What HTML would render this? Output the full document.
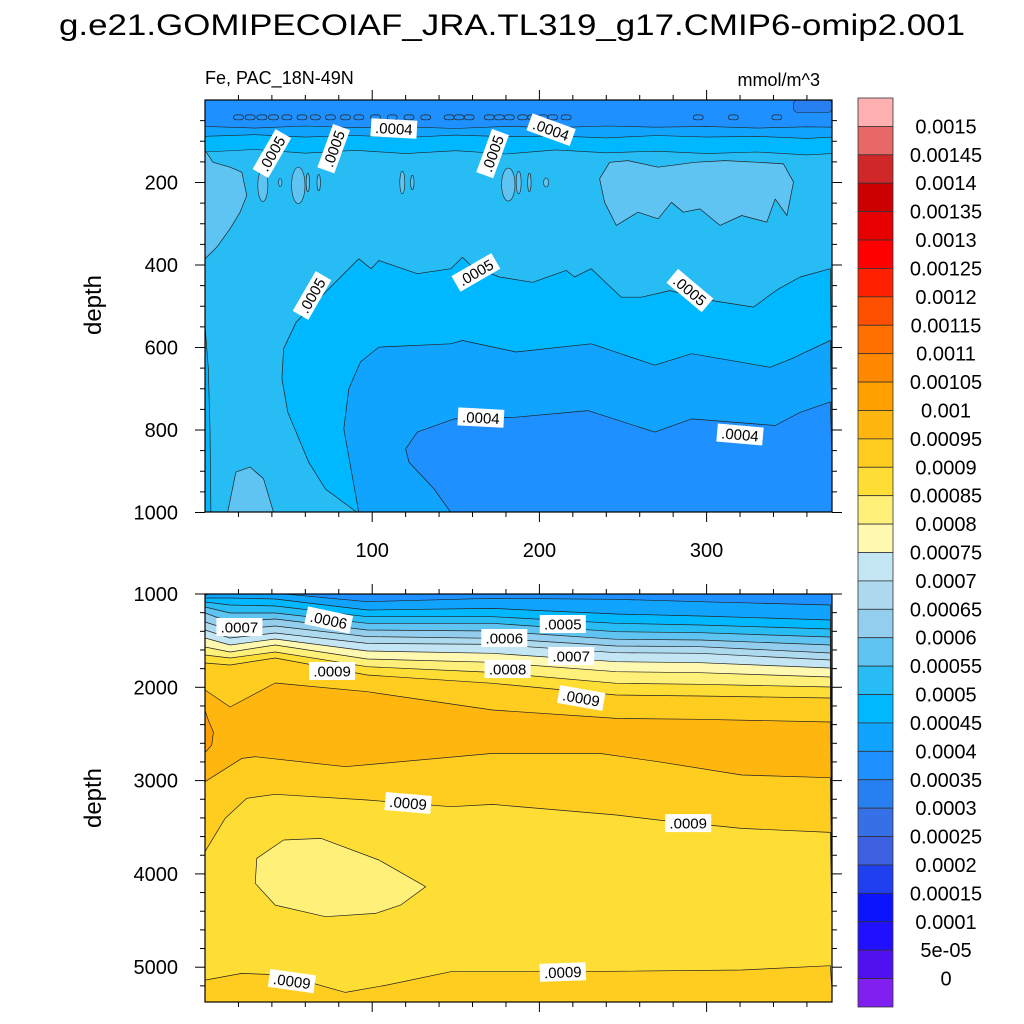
<!DOCTYPE html>
<html><head><meta charset="utf-8">
<style>
html,body{margin:0;padding:0;background:#fff;}
svg{display:block;font-family:"Liberation Sans",Arial,sans-serif;}
</style></head>
<body>
<svg id="chart" width="1024" height="1024" viewBox="0 0 1024 1024" xmlns="http://www.w3.org/2000/svg">
<text x="512" y="35" font-size="30" text-anchor="middle" textLength="906" lengthAdjust="spacingAndGlyphs">g.e21.GOMIPECOIAF_JRA.TL319_g17.CMIP6-omip2.001</text>
<text x="205" y="84" font-size="18">Fe, PAC_18N-49N</text>
<text x="820" y="86" font-size="18" text-anchor="end">mmol/m^3</text>
<defs>
<clipPath id="clipT"><rect x="205" y="100" width="627" height="412"/></clipPath>
<clipPath id="clipB"><rect x="205" y="594" width="627" height="408"/></clipPath>
</defs>
<g id="topFill" clip-path="url(#clipT)"></g>
<g id="botFill" clip-path="url(#clipB)"></g>
<g id="axes"></g>
<g id="cbar"></g>
</svg>
<script>
// ---- colour levels ----
const cbColors = ["#FFB0B0","#E86868","#D02828","#CC0000","#E60000","#FF0000","#FF2000","#FF5000","#FF7000","#FF8800","#FFA000","#FFB60F","#FFCC20","#FEDE35","#FFF07A","#FFF8B0","#C4E6F4","#AEDAF0","#94CEEE","#60C4F2","#28BCF5","#00B8FF","#10A4FF","#1E90FF","#2880F0","#3670E6","#3C60E0","#2040F0","#0A14FF","#2010FF","#5010F0","#8020F0"];
const cbLabels = ["0.0015","0.00145","0.0014","0.00135","0.0013","0.00125","0.0012","0.00115","0.0011","0.00105","0.001","0.00095","0.0009","0.00085","0.0008","0.00075","0.0007","0.00065","0.0006","0.00055","0.0005","0.00045","0.0004","0.00035","0.0003","0.00025","0.0002","0.00015","0.0001","5e-05","0"];

// ---- upper panel data (day, depth) ----
const stripDays = [0,30,60,90,120,150,180,210,240,270,300,330,360,375];
const stripT1 = [64,68,63,67,65,69,64,67,63,66,64,68,65,66];
const stripT2 = [88,84,90,86,91,85,89,87,92,86,90,88,93,90];
const stripT3 = [126,120,129,122,130,123,131,121,128,124,130,126,133,130];
const loopDays = [20,27,34,41,49,58,66,75,84,92,102,112,122,132,146,152,158,170,176,182,190,196,202,208,216,295,316,342];
const c05Days = [54.5,72,92,99.3,104,127,147,154,159,176,196,216,221,231,249,261,278,303,328,343,356,374];
const c05Depth = [539,466,385,409,389,421,409,381,401,429,442,413,429,409,478,478,462,486,502,458,429,409];
const c05LeftDays = [54.5,47,46,49.5,62,72,91];
const c05LeftDepth = [539,603,676,757,878,943,1000];
const c045Days = [92,83,86,93,104,147,154,186,231,269,291,338,351,374];
const c045Depth = [1000,797,700,635,599,591,583,611,591,643,615,648,627,583];
const c04Days = [147,137,122,120,127,149,186,229,269,291,341,356,374];
const c04Depth = [1000,943,878,846,805,773,769,753,805,773,789,757,732];
const patchLDays = [0,4.8,15,22,25,21,15,7,0];
const patchLDepth = [122,151,163,175,231,272,312,357,385];
const patchRDays = [236,242,253,271,293,311,331,346,352,348,341,336,321,308,296,286,279,271,259,246,239];
const patchRDepth = [191,151,147,163,151,147,151,155,199,280,240,296,280,304,264,272,248,288,272,304,248];
const blobDays = [13.5,18.5,27,35,41];
const blobDepth = [1000,902,890,918,1000];
const edgeDays = [0,2,3,3.5,0];
const edgeDepth = [547,650,800,1000,1000];
const ovalDays = [34.6,55.8,118,181.4,61.5,68,124,187.6,194,204,45];
const ovalDepth = [207,207,200,205,200,200,200,200,200,200,200];
const ovalW = [6,8,3,8,2,2,2,3,2,3,2];
const ovalH = [78,88,55,80,45,40,35,55,45,22,20];
const topLabels = [".0004",".0004",".0005",".0005",".0005",".0005",".0005",".0005",".0004",".0004"];
const topLabDay = [113,207,40,77,172,162,64,290,165,320];
const topLabDepth = [69,72,130,118,130,418,474,462,770,811];
const topLabRot = [3,20,-60,-70,-70,-30,-60,40,3,5];

// ---- lower panel data ----
const lineDays = [0,15,42,97,172,246,296,374];
const L1 = [1011,960,990,1082,1046,1057,1083,1118];
const L2 = [1043,1043,1054,1171,1154,1214,1236,1279];
const L3 = [1086,1118,1129,1243,1243,1314,1332,1375];
const L4 = [1139,1204,1204,1314,1314,1404,1415,1461];
const L5 = [1204,1300,1268,1386,1397,1486,1493,1547];
const L6 = [1300,1386,1343,1457,1475,1557,1565,1632];
const L7 = [1386,1472,1418,1529,1540,1629,1636,1707];
const L8 = [1472,1547,1482,1611,1636,1726,1736,1793];
const L9 = [1568,1622,1547,1697,1732,1833,1844,1890];
const L10 = [1654,1686,1622,1779,1840,1957,1968,1997];
const L11 = [1740,1761,1686,1868,1957,2083,2093,2115];
const L12 = [2029,2211,1954,2047,2243,2333,2343,2372];
const L13Days = [0,22,30,84,172,236,271,321,374];
const L13 = [3012,2762,2744,2851,2708,2708,2797,2940,2969];
const L14Days = [0,12,25,42,97,147,172,246,271,321,374];
const L14 = [3762,3405,3190,3147,3208,3280,3255,3369,3422,3512,3555];
const L15Days = [0,22,47,84,109,147,221,321,374];
const L15 = [5138,5066,5084,5270,5191,5048,5048,5030,4984];
const ellDays = [31,47,69.5,104,132,117,102,72,42,30];
const ellDepth = [3833,3637,3619,3851,4137,4334,4423,4459,4334,4101];
const orgDays = [0,2,5,4,0];
const orgDepth = [2250,2350,2480,2620,2700];
const botLabels = [".0007",".0006",".0005",".0006",".0007",".0008",".0009",".0009",".0009",".0009",".0009",".0009"];
const botLabDay = [20.6,74,214,179,219,181,76,225,121.5,289,52,214];
const botLabDepth = [1354,1279,1322,1472,1665,1804,1825,2115,3240,3455,5149,5052];
const botLabRot = [0,12,0,0,0,0,0,10,5,0,8,-2];

// ---- tick data ----
const xTickVals = [100,200,300];
const topYTicks = [200,400,600,800,1000];
const botYTicks = [1000,2000,3000,4000,5000];

// ---- scales ----
const xS = d => 205 + d*1.672;
const yT = z => 100 + z*0.4125;
const yB = z => 594 + (z-1000)*0.0933;
const NS = "http://www.w3.org/2000/svg";
function mk(tag, attrs, parent){const e=document.createElementNS(NS,tag);for(const k in attrs)e.setAttribute(k,attrs[k]);parent.appendChild(e);return e;}
function pts(days, depths, ys){return days.map((d,i)=>xS(d).toFixed(1)+","+ys(depths[i]).toFixed(1));}

const gT = document.getElementById('topFill');
const gB = document.getElementById('botFill');
const ax = document.getElementById('axes');
const cb = document.getElementById('cbar');

// ===== upper panel =====
let e = mk('rect',{x:205,y:100,width:627,height:412,fill:"#28BCF5"},gT);


function stripBand(arr,color,name){
  const p = pts(stripDays,arr,yT).join(" ")+" "+xS(375)+","+yT(0)+" "+xS(0)+","+yT(0);
  const el = mk('polygon',{points:p,fill:color,stroke:"#222","stroke-width":0.6},gT);
  
  
}
stripBand(stripT3,"#00B8FF","surface-band-045");
stripBand(stripT2,"#10A4FF","surface-band-040");
stripBand(stripT1,"#1E90FF","surface-band-035");
e = mk('rect',{x:xS(352),y:yT(0),width:xS(375)-xS(352),height:yT(30)-yT(0),rx:4,fill:"#2880F0",stroke:"#222","stroke-width":0.6},gT);


loopDays.forEach((d)=>{
  const el = mk('rect',{x:xS(d)-5,y:yT(36),width:10,height:yT(48)-yT(36),rx:3,fill:"none",stroke:"#222","stroke-width":0.7},gT);
  
  
});
function poly(g,p,color,name,ys){
  const el = mk('polygon',{points:p,fill:color,stroke:"#222","stroke-width":0.7,"stroke-linejoin":"round"},g);
  
  
  return el;
}
poly(gT,pts(patchLDays,patchLDepth,yT).join(" "),"#60C4F2","left-patch-055",yT);
poly(gT,pts(patchRDays,patchRDepth,yT).join(" "),"#60C4F2","right-patch-055",yT);
ovalDays.forEach((d,i)=>{
  const el = mk('ellipse',{cx:xS(d),cy:yT(ovalDepth[i]),rx:ovalW[i]*1.672/2,ry:(ovalH[i]*0.4125)/2,fill:"#60C4F2",stroke:"#222","stroke-width":0.6},gT);
  
  
});
{
  const a = pts(c05Days,c05Depth,yT);
  const left = pts(c05LeftDays.slice().reverse(),c05LeftDepth.slice().reverse(),yT);
  poly(gT,a.join(" ")+" "+xS(376)+","+yT(1001)+" "+left.join(" "),"#00B8FF","region-045-050",yT);
}
poly(gT,pts(edgeDays,edgeDepth,yT).join(" "),"#00B8FF","left-edge-strip",yT);
poly(gT,pts(blobDays,blobDepth,yT).join(" "),"#60C4F2","bottom-left-blob",yT);
poly(gT,pts(c045Days,c045Depth,yT).join(" ")+" "+xS(376)+","+yT(1001),"#10A4FF","region-040-045",yT);
poly(gT,pts(c04Days,c04Depth,yT).join(" ")+" "+xS(376)+","+yT(1001),"#1E90FF","region-035-040",yT);

function label(g,txt,x,y,rot,name){
  const grp = mk('g',{transform:`translate(${x.toFixed(1)},${y.toFixed(1)}) rotate(${rot})`},g);
  
  
  mk('rect',{x:-23,y:-9,width:46,height:18,fill:"#fff"},grp);
  const t = mk('text',{x:0,y:5.5,"font-size":15,"text-anchor":"middle"},grp);
  t.textContent = txt;
}
topLabels.forEach((t,i)=>label(gT,t,xS(topLabDay[i]),yT(topLabDepth[i]),topLabRot[i],'contour-label'));

// ===== lower panel =====
e = mk('rect',{x:205,y:594,width:627,height:408,fill:"#1E90FF"},gB);


const Ls = [L1,L2,L3,L4,L5,L6,L7,L8,L9,L10,L11,L12];
const Lcol = ["#10A4FF","#00B8FF","#28BCF5","#60C4F2","#94CEEE","#AEDAF0","#C4E6F4","#FFF8B0","#FFF07A","#FEDE35","#FFCC20","#FFB60F"];
function bandBelow(days,arr,color,name){
  const p = pts(days,arr,yB).join(" ")+" "+xS(376)+","+yB(5500)+" "+xS(-1)+","+yB(5500);
  poly(gB,p,color,name,yB);
}
Ls.forEach((arr,i)=>bandBelow(lineDays,arr,Lcol[i],'contour-band-'+(i+1)));
poly(gB,pts(orgDays,orgDepth,yB).join(" "),"#FFA000","left-edge-max",yB);
bandBelow(L13Days,L13,"#FFCC20",'contour-band-13');
bandBelow(L14Days,L14,"#FEDE35",'contour-band-14');
poly(gB,pts(ellDays,ellDepth,yB).join(" "),"#FFF07A","min-ellipse",yB);
bandBelow(L15Days,L15,"#FFCC20",'contour-band-15');
botLabels.forEach((t,i)=>label(gB,t,xS(botLabDay[i]),yB(botLabDepth[i]),botLabRot[i],'contour-label'));

// ===== axes =====
function line(x1,y1,x2,y2,name,w){
  const el = mk('line',{x1,y1,x2,y2,stroke:"#000","stroke-width":w||1},ax);
  
  
}
function frame(y0,y1,name){
  const el = mk('rect',{x:205,y:y0,width:627,height:y1-y0,fill:"none",stroke:"#000","stroke-width":1.2},ax);
  
  
}
frame(100,512,'upper-frame');
frame(594,1002,'lower-frame');
for(let d=20; d<375; d+=20){
  const major = xTickVals.includes(d);
  const L = major?10:5;
  [[100,-1],[512,1],[594,-1],[1002,1]].forEach(([y,s])=>line(xS(d),y,xS(d),y+s*L,'x-tick',1));
}
xTickVals.forEach(v=>{
  const t = mk('text',{x:xS(v),y:557,"font-size":20,"text-anchor":"middle"},ax);
  
  
  t.textContent = v;
});
for(let z=50; z<=1000; z+=50){
  const major = topYTicks.includes(z);
  const L = major?10:5;
  line(205,yT(z),205-L,yT(z),'y-tick',1);
  line(832,yT(z),832+L,yT(z),'y-tick',1);
}
topYTicks.forEach(v=>{
  const t = mk('text',{x:178,y:yT(v)+7,"font-size":20,"text-anchor":"end"},ax);
  
  
  t.textContent = v;
});
for(let z=1000; z<=5373; z+=200){
  const major = botYTicks.includes(z);
  const L = major?10:5;
  line(205,yB(z),205-L,yB(z),'y-tick',1);
  line(832,yB(z),832+L,yB(z),'y-tick',1);
}
botYTicks.forEach(v=>{
  const t = mk('text',{x:178,y:yB(v)+7,"font-size":20,"text-anchor":"end"},ax);
  
  
  t.textContent = v;
});
[[305,'upper-y-axis-title'],[798,'lower-y-axis-title']].forEach(([cy,n])=>{
  const t = mk('text',{x:0,y:0,"font-size":24,"text-anchor":"middle",transform:`translate(101,${cy}) rotate(-90)`},ax);
  
  
  t.textContent = "depth";
});

// ===== colorbar =====
const bh = 909/32;
cbColors.forEach((c,i)=>{
  const r = mk('rect',{x:858,y:98+i*bh,width:35,height:bh,fill:c,stroke:"#333","stroke-width":0.8},cb);
  
  
});
cbLabels.forEach((s,i)=>{
  const t = mk('text',{x:946,y:98+(i+1)*bh+7,"font-size":20,"text-anchor":"middle"},cb);
  
  
  t.textContent = s;
});
</script>
</body></html>
